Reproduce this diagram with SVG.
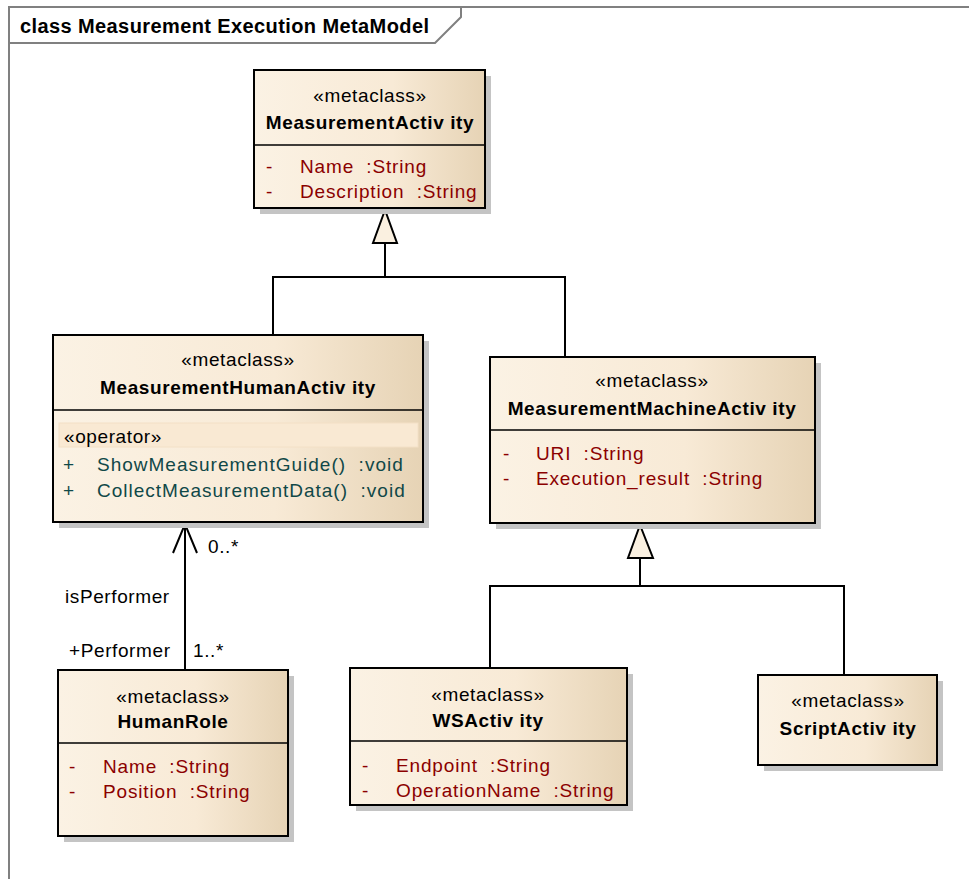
<svg xmlns="http://www.w3.org/2000/svg" width="969" height="879" viewBox="0 0 969 879">
  <defs>
    <linearGradient id="boxFill" x1="0" y1="0" x2="1" y2="0">
      <stop offset="0" stop-color="#FBF2E4"/>
      <stop offset="0.6" stop-color="#F8EAD6"/>
      <stop offset="1" stop-color="#E6D3B5"/>
    </linearGradient>
  </defs>
  <style>
    text { font-family: "Liberation Sans", Arial, sans-serif; font-size: 19px; letter-spacing: 0.6px; white-space: pre; }
    .title { font-size: 20px; letter-spacing: 0.4px; font-weight: bold; fill: #000; }
    .stereo { fill: #000; text-anchor: middle; }
    .name { font-weight: bold; fill: #000; text-anchor: middle; }
    .attr { fill: #8B0000; letter-spacing: 0.85px; }
    .op { fill: #104848; letter-spacing: 1px; }
    .lbl { fill: #000; }
    .box { fill: url(#boxFill); stroke: #000; stroke-width: 2; }
    .shadow { fill: #C4C4C4; }
    .div { stroke: #000; stroke-width: 1.5; }
    .edge { fill: none; stroke: #000; stroke-width: 2; }
    .gen { fill: #FAF0E0; stroke: #000; stroke-width: 2; stroke-linejoin: miter; }
    .frame { fill: none; stroke: #808080; stroke-width: 2; }
  </style>

  <rect width="969" height="879" fill="#fff"/>

  <!-- diagram frame with title tab -->
  <g id="frame">
    <path class="frame" d="M9,879 V7 H969"/>
    <path class="frame" d="M9,43 H435 L461,17 V7"/>
    <text class="title" x="20" y="33">class Measurement Execution MetaModel</text>
  </g>

  <!-- connectors -->
  <g id="connectors">
    <!-- generalization to MeasurementActivity -->
    <path class="edge" d="M273,335 V277 H565 V357"/>
    <path class="edge" d="M385,277 V243"/>
    <polygon class="gen" points="385,210 373,243 397,243"/>
    <!-- generalization to MeasurementMachineActivity -->
    <path class="edge" d="M490,668 V586 H844 V675"/>
    <path class="edge" d="M640,586 V558"/>
    <polygon class="gen" points="640,525 628,558 653,558"/>
    <!-- isPerformer association -->
    <path class="edge" d="M185,670 V524"/>
    <path class="edge" d="M173,553 L185,524 L197,553"/>
    <text class="lbl" x="208" y="553">0..*</text>
    <text class="lbl" x="65" y="603">isPerformer</text>
    <text class="lbl" x="69" y="657">+Performer</text>
    <text class="lbl" x="193" y="657">1..*</text>
  </g>

  <g id="MeasurementActivity">
    <rect class="shadow" x="260" y="76" width="231" height="138"/>
    <rect class="box" x="254" y="70" width="231" height="138"/>
    <line class="div" x1="254" y1="145" x2="485" y2="145"/>
    <text class="stereo" x="370" y="102">«metaclass»</text>
    <text class="name" x="370" y="129">MeasurementActiv ity</text>
    <text class="attr" x="266" y="173">-</text>
    <text class="attr" x="300" y="173">Name&#160; :String</text>
    <text class="attr" x="266" y="198">-</text>
    <text class="attr" x="300" y="198">Description&#160; :String</text>
  </g>

  <g id="MeasurementHumanActivity">
    <rect class="shadow" x="59" y="341" width="370" height="187"/>
    <rect class="box" x="53" y="335" width="370" height="187"/>
    <line class="div" x1="53" y1="410" x2="423" y2="410"/>
    <rect x="59" y="423" width="359" height="24" fill="#F9E9D3" stroke="#F3E0C6" stroke-width="1"/>
    <text class="stereo" x="238" y="366">«metaclass»</text>
    <text class="name" x="238" y="394">MeasurementHumanActiv ity</text>
    <text class="lbl" x="64" y="443">«operator»</text>
    <text class="op" x="63" y="471">+</text>
    <text class="op" x="97" y="471">ShowMeasurementGuide()&#160; :void</text>
    <text class="op" x="63" y="497">+</text>
    <text class="op" x="97" y="497">CollectMeasurementData()&#160; :void</text>
  </g>

  <g id="MeasurementMachineActivity">
    <rect class="shadow" x="496" y="363" width="325" height="166"/>
    <rect class="box" x="490" y="357" width="325" height="166"/>
    <line class="div" x1="490" y1="430" x2="815" y2="430"/>
    <text class="stereo" x="652" y="387">«metaclass»</text>
    <text class="name" x="652" y="415">MeasurementMachineActiv ity</text>
    <text class="attr" x="503" y="460">-</text>
    <text class="attr" x="536" y="460">URI&#160; :String</text>
    <text class="attr" x="503" y="485">-</text>
    <text class="attr" x="536" y="485">Execution_result&#160; :String</text>
  </g>

  <g id="HumanRole">
    <rect class="shadow" x="64" y="676" width="230" height="166"/>
    <rect class="box" x="58" y="670" width="230" height="166"/>
    <line class="div" x1="58" y1="743" x2="288" y2="743"/>
    <text class="stereo" x="173" y="703">«metaclass»</text>
    <text class="name" x="173" y="728">HumanRole</text>
    <text class="attr" x="69" y="773">-</text>
    <text class="attr" x="103" y="773">Name&#160; :String</text>
    <text class="attr" x="69" y="798">-</text>
    <text class="attr" x="103" y="798">Position&#160; :String</text>
  </g>

  <g id="WSActivity">
    <rect class="shadow" x="356" y="674" width="277" height="137"/>
    <rect class="box" x="350" y="668" width="277" height="137"/>
    <line class="div" x1="350" y1="741" x2="627" y2="741"/>
    <text class="stereo" x="488" y="701">«metaclass»</text>
    <text class="name" x="488" y="727">WSActiv ity</text>
    <text class="attr" x="362" y="772">-</text>
    <text class="attr" x="396" y="772">Endpoint&#160; :String</text>
    <text class="attr" x="362" y="797">-</text>
    <text class="attr" x="396" y="797">OperationName&#160; :String</text>
  </g>

  <g id="ScriptActivity">
    <rect class="shadow" x="764" y="681" width="179" height="90"/>
    <rect class="box" x="758" y="675" width="179" height="90"/>
    <text class="stereo" x="848" y="707">«metaclass»</text>
    <text class="name" x="848" y="735">ScriptActiv ity</text>
  </g>
</svg>
